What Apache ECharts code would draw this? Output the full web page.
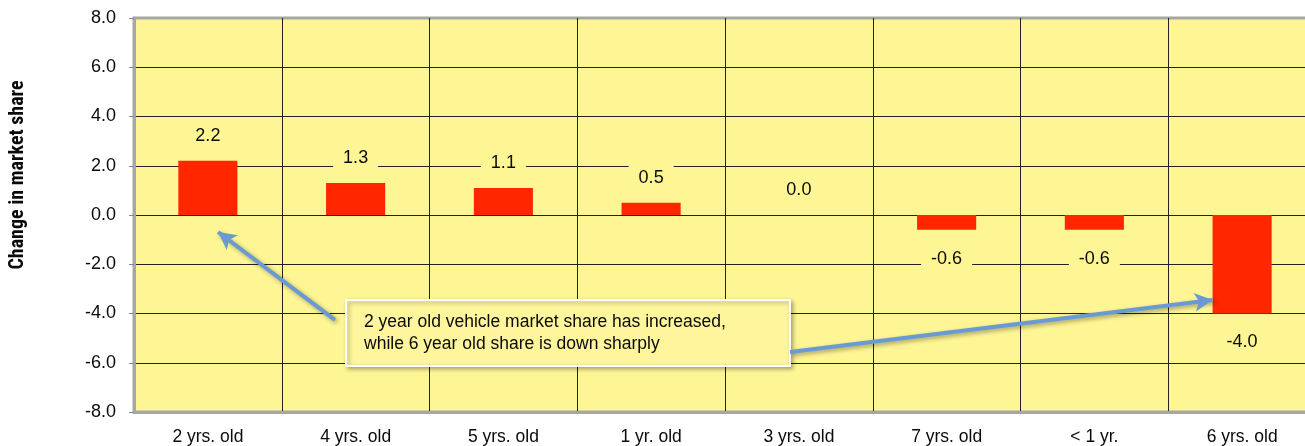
<!DOCTYPE html>
<html><head><meta charset="utf-8">
<script src="https://cdn.jsdelivr.net/npm/echarts@6/dist/echarts.min.js"></script>
<style>html,body{margin:0;padding:0;background:#fff}#c{width:1305px;height:446px}</style>
</head><body><div id="c"></div>
<script>
var categories = ["2 yrs. old","4 yrs. old","5 yrs. old","1 yr. old","3 yrs. old","7 yrs. old","< 1 yr.","6 yrs. old"];
var shareChange = [2.2, 1.3, 1.1, 0.5, 0.0, -0.6, -0.6, -4.0];
var yTicks = {min: -8, max: 8, interval: 2};
var axisTitle = "Change in market share";
var noteText = "2 year old vehicle market share has increased,\nwhile 6 year old share is down sharply";
// annotation anchors in (category units, value) space
var noteBox = [[1.435, -3.45], [4.44, -6.13]];
var arrows = [
  [[1.36, -4.26], [0.569, -0.69]],
  [[4.44, -5.56], [7.30, -3.45]]
];

var FONT = "Liberation Sans";
var YEL = "#fef595";
var chart = echarts.init(document.getElementById('c'), null, {renderer:'canvas'});
chart.setOption({
  animation: false,
  textStyle: {fontFamily: FONT},
  grid: {left: 134, width: 1182, top: 18, bottom: 34, outerBoundsMode: 'none', containLabel: false,
    show: true, backgroundColor: YEL, borderColor: '#a6a6a6', borderWidth: 3},
  xAxis: [{
    type: 'category', data: categories, boundaryGap: true,
    axisLine: {show: true, onZero: false, lineStyle: {color: '#a6a6a6', width: 3}},
    axisTick: {show: false},
    splitLine: {show: true, lineStyle: {color: '#222', width: 1}},
    axisLabel: {fontSize: 17.5, color: '#0a0a0a', margin: 16, fontFamily: FONT}
  }, {
    type: 'value', min: 0, max: 8, show: false
  }],
  yAxis: {
    type: 'value', min: yTicks.min, max: yTicks.max, interval: yTicks.interval,
    axisLine: {show: true, lineStyle: {color: '#a6a6a6', width: 3}},
    axisTick: {show: true, length: 5, lineStyle: {color: '#888'}},
    splitLine: {lineStyle: {color: ['#a6a6a6','#222','#222','#222','#222','#222','#222','#222','#a6a6a6'], width: 1}},
    axisLabel: {fontSize: 18, color: '#0a0a0a', margin: 18, fontFamily: FONT, formatter: function(v){return v.toFixed(1);}}
  },
  graphic: [{
    type: 'text', rotation: Math.PI/2,
    x: 18, y: 175,
    style: {text: axisTitle, font: 'bold 20px "Liberation Sans Narrow", "Roboto Condensed", sans-serif', fill: '#0a0a0a', align: 'center', verticalAlign: 'middle'}
  }],
  series: [{
    type: 'bar', barWidth: '40%',
    itemStyle: {color: '#ff2600'},
    label: {show: true, fontSize: 18, color: '#0a0a0a', backgroundColor: YEL, padding: [3, 10], fontFamily: FONT,
      formatter: function(p){return p.value.toFixed(1);}},
    data: shareChange.map(function(v){
      return {value: v, label: {position: v < 0 ? 'bottom' : 'top', distance: v < 0 ? 17 : 13}};
    }),
    z: 3
  }, {
    type: 'scatter', xAxisIndex: 1, data: [], z: 5,
    markLine: {
      silent: true, symbol: ['none', 'arrow'], symbolSize: [14, 18],
      label: {show: false},
      lineStyle: {color: '#6a9ad4', width: 4, type: 'solid', shadowBlur: 4, shadowColor: 'rgba(0,0,0,0.35)', shadowOffsetX: 2, shadowOffsetY: 2},
      data: arrows.map(function(a){return [{coord: a[0]}, {coord: a[1]}];})
    },
    markArea: {
      silent: true,
      itemStyle: {color: '#fef59c', borderColor: '#ffffff', borderWidth: 2, shadowBlur: 4, shadowColor: 'rgba(0,0,0,0.3)', shadowOffsetX: 2, shadowOffsetY: 2},
      label: {show: true, position: 'insideLeft', distance: 19, fontSize: 17.5, lineHeight: 22, color: '#0a0a0a', fontFamily: FONT, align: 'left'},
      data: [[{coord: noteBox[0], name: noteText}, {coord: noteBox[1]}]]
    }
  }]
});
</script></body></html>
